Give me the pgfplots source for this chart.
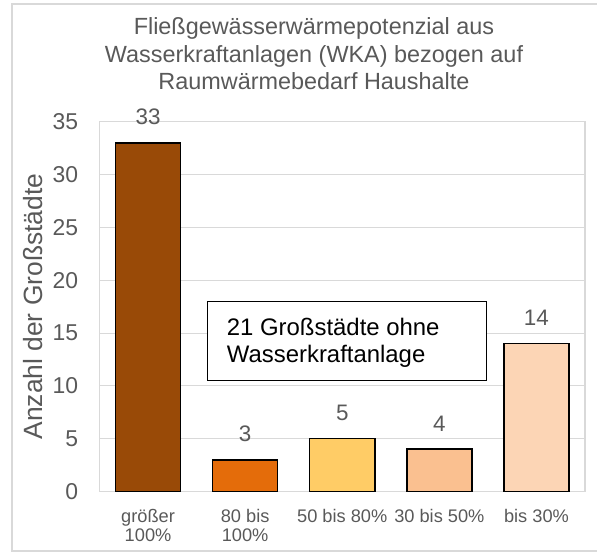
\documentclass[border=0pt]{standalone}
\usepackage{pgfplots}
\pgfplotsset{compat=1.18}
\usepackage{fontspec}
\setmainfont{Liberation Sans}
\definecolor{gridgray}{RGB}{217,217,217}
\definecolor{txtgray}{RGB}{89,89,89}
\definecolor{c1}{RGB}{153,74,7}
\definecolor{c2}{RGB}{228,108,10}
\definecolor{c3}{RGB}{255,204,102}
\definecolor{c4}{RGB}{250,192,144}
\definecolor{c5}{RGB}{252,213,181}
\begin{document}
\begin{tikzpicture}
\draw[gridgray, line width=1.3bp] (12bp,-4bp) rectangle (620bp,-551bp);
\begin{axis}[
  at={(99.5bp,-491.5bp)}, anchor=south west,
  scale only axis, width=485.5bp, height=369.8bp,
  xmin=-0.5, xmax=4.5, ymin=0, ymax=35,
  ytick={0,5,...,35},
  xtick={0,1,2,3,4},
  xticklabels={{größer\\100\%},{80 bis\\100\%},{50 bis 80\%},{30 bis 50\%},{bis 30\%}},
  major tick length=0pt,
  ymajorgrids,
  grid style={gridgray, line width=1bp},
  axis line style={gridgray, line width=1.2bp},
  /pgf/number format/assume math mode=true,
  yticklabel style={font=\fontsize{23}{27}\selectfont, text=txtgray, anchor=east, inner sep=0pt, xshift=-21.2bp},
  xticklabel style={font=\fontsize{18.3}{19.6}\selectfont, text=txtgray, align=center, anchor=north, inner sep=0pt, yshift=-17.5bp},
  every axis y label/.style={at={(axis description cs:-0.1174,0.5)}, rotate=90, anchor=base, inner sep=0pt, font=\fontsize{26.5}{30}\selectfont, text=txtgray},
  ylabel={Anzahl der Großstädte},
  title={Fließgewässerwärmepotenzial aus\\Wasserkraftanlagen (WKA) bezogen auf\\Raumwärmebedarf Haushalte},
  title style={at={(axis description cs:0.4418,1.2655)}, anchor=north, inner sep=0pt, align=center, font=\fontsize{23.5}{27.5}\selectfont, text=txtgray},
  ybar, bar width=0.67, bar shift=0pt,
  nodes near coords,
  every node near coord/.append style={font=\fontsize{22.5}{26}\selectfont, text=txtgray, anchor=south, inner sep=0pt, yshift=17bp},
  clip=false,
]
\addplot[draw=black, line width=1.5bp, fill=c1] coordinates {(0,33)};
\addplot[draw=black, line width=1.5bp, fill=c2] coordinates {(1,3)};
\addplot[draw=black, line width=1.5bp, fill=c3] coordinates {(2,5)};
\addplot[draw=black, line width=1.5bp, fill=c4] coordinates {(3,4)};
\addplot[draw=black, line width=1.5bp, fill=c5] coordinates {(4,14)};
\draw[black, line width=1.3bp, fill=white] (axis cs:0.610,10.49) rectangle (axis cs:3.488,17.96);
\node[anchor=north west, align=left, inner sep=0pt, font=\fontsize{24}{28}\selectfont, text=black] at (axis cs:0.81,16.47) {21 Großstädte ohne\\Wasserkraftanlage};
\end{axis}
\pgfresetboundingbox
\path[use as bounding box] (0bp,0bp) rectangle (597bp,-556bp);
\end{tikzpicture}
\end{document}
